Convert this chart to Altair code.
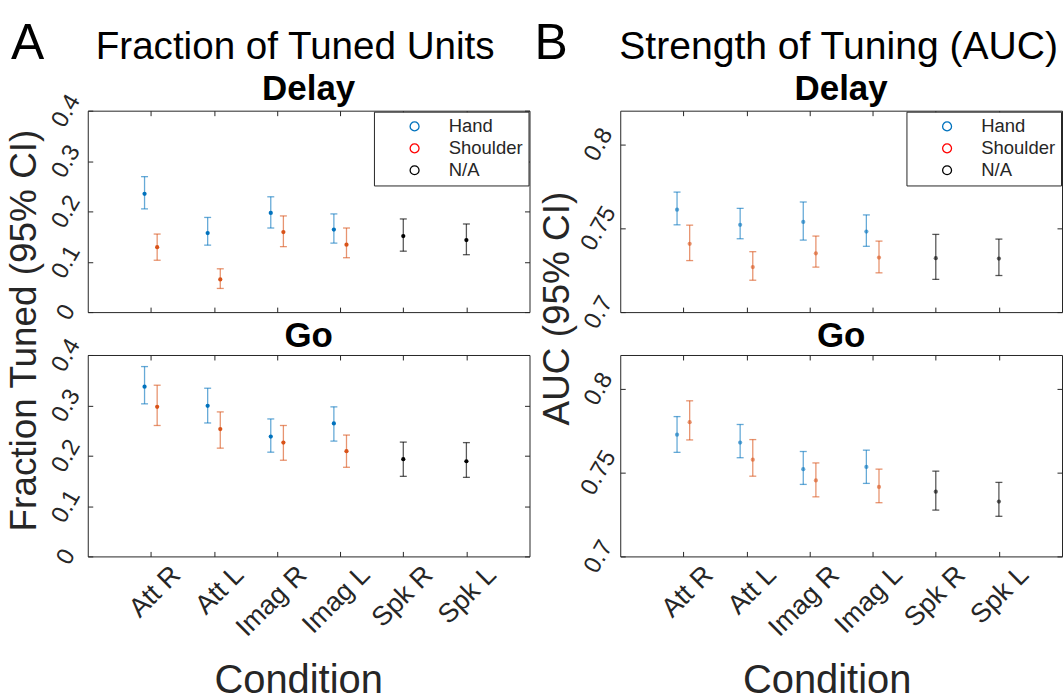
import json
import altair as alt
import pandas as pd

FONT = "Liberation Sans"
GRAY = "#262626"

conditions = ["Att R", "Att L", "Imag R", "Imag L", "Spk R", "Spk L"]
group_names = ["Hand", "Shoulder", "N/A"]
hand_conds = ["Att R", "Att L", "Imag R", "Imag L"]
shoulder_conds = ["Att R", "Att L", "Imag R", "Imag L"]
na_conds = ["Spk R", "Spk L"]

# ---- Fraction tuned, Delay ----
frac_delay_hand = [0.235, 0.157, 0.197, 0.164]
frac_delay_hand_lo = [0.205, 0.133, 0.167, 0.137]
frac_delay_hand_hi = [0.269, 0.188, 0.229, 0.195]
frac_delay_sh = [0.129, 0.065, 0.159, 0.134]
frac_delay_sh_lo = [0.103, 0.047, 0.130, 0.108]
frac_delay_sh_hi = [0.155, 0.086, 0.191, 0.167]
frac_delay_na = [0.151, 0.143]
frac_delay_na_lo = [0.121, 0.114]
frac_delay_na_hi = [0.185, 0.175]

# ---- Fraction tuned, Go ----
frac_go_hand = [0.337, 0.299, 0.238, 0.264]
frac_go_hand_lo = [0.303, 0.265, 0.207, 0.229]
frac_go_hand_hi = [0.377, 0.334, 0.273, 0.297]
frac_go_sh = [0.297, 0.253, 0.226, 0.209]
frac_go_sh_lo = [0.260, 0.215, 0.191, 0.177]
frac_go_sh_hi = [0.340, 0.287, 0.260, 0.241]
frac_go_na = [0.193, 0.189]
frac_go_na_lo = [0.159, 0.157]
frac_go_na_hi = [0.227, 0.226]

# ---- AUC, Delay ----
auc_delay_hand = [0.7610, 0.7520, 0.7537, 0.7480]
auc_delay_hand_lo = [0.7520, 0.7437, 0.7429, 0.7392]
auc_delay_hand_hi = [0.7715, 0.7618, 0.7656, 0.7579]
auc_delay_sh = [0.7407, 0.7268, 0.7350, 0.7325]
auc_delay_sh_lo = [0.7307, 0.7190, 0.7268, 0.7234]
auc_delay_sh_hi = [0.7518, 0.7360, 0.7453, 0.7423]
auc_delay_na = [0.7321, 0.7319]
auc_delay_na_lo = [0.7195, 0.7218]
auc_delay_na_hi = [0.7463, 0.7435]

# ---- AUC, Go ----
auc_go_hand = [0.7725, 0.7678, 0.7520, 0.7533]
auc_go_hand_lo = [0.7620, 0.7588, 0.7429, 0.7435]
auc_go_hand_hi = [0.7833, 0.7786, 0.7625, 0.7633]
auc_go_sh = [0.7800, 0.7576, 0.7453, 0.7414]
auc_go_sh_lo = [0.7694, 0.7478, 0.7355, 0.7320]
auc_go_sh_hi = [0.7927, 0.7696, 0.7557, 0.7520]
auc_go_na = [0.7386, 0.7327]
auc_go_na_lo = [0.7276, 0.7239]
auc_go_na_hi = [0.7508, 0.7441]

frac_ticks = [0, 0.1, 0.2, 0.3, 0.4]
auc_ticks = [0.7, 0.75, 0.8]

mark_colors = ["#0072BD", "#D95319", "#000000"]
legend_colors = ["#0072BD", "#FF0000", "#000000"]
bar_opacity = [0.6, 0.65, 0.85]
group_offset = {"Hand": -0.1, "Shoulder": 0.1, "N/A": 0.0}

label_expr = json.dumps([""] + conditions) + "[datum.value]"


def make_df(hand, hand_lo, hand_hi, sh, sh_lo, sh_hi, na, na_lo, na_hi):
    rows = []
    for grp, conds, m, lo, hi in [
        ("Hand", hand_conds, hand, hand_lo, hand_hi),
        ("Shoulder", shoulder_conds, sh, sh_lo, sh_hi),
        ("N/A", na_conds, na, na_lo, na_hi),
    ]:
        for c, a, b, d in zip(conds, m, lo, hi):
            rows.append({
                "condition": c,
                "group": grp,
                "pos": conditions.index(c) + 1 + group_offset[grp],
                "mean": a, "lo": b, "hi": d,
            })
    return pd.DataFrame(rows)


def text_layer(text, x, y, size, weight="normal", align="left"):
    return alt.Chart(pd.DataFrame({"t": [text]})).mark_text(
        font=FONT, fontSize=size, fontWeight=weight, align=align,
        baseline="alphabetic", color="black"
    ).encode(text="t:N", x=alt.value(x), y=alt.value(y))


def panel(df, ydom, yvals, yfmt, width, height, show_x, ytitle, ytitle_y,
          xtitle_x, point_opacity, with_legend, texts):
    xs = alt.Scale(domain=[0, 7], nice=False, zero=False)
    ys = alt.Scale(domain=ydom, nice=False, zero=False)
    color = alt.Color("group:N", scale=alt.Scale(domain=group_names, range=mark_colors), legend=None)
    opac = alt.Opacity("group:N", scale=alt.Scale(domain=group_names, range=bar_opacity), legend=None)

    x_axis = alt.Axis(
        orient="bottom", values=list(range(1, 7)), labels=show_x, labelExpr=label_expr,
        labelAngle=-45, labelAlign="right", labelBaseline="middle", labelPadding=14,
        labelOffset=25, labelFont=FONT, labelFontSize=27, labelColor=GRAY,
        labelOverlap=False, labelFlush=False, ticks=True, tickSize=5, tickColor=GRAY,
        tickWidth=1, offset=-5, domain=False, grid=False,
        title=("Condition" if show_x else None), titleFont=FONT, titleFontSize=40,
        titleFontWeight="normal", titleColor=GRAY, titleX=xtitle_x, titleY=141,
        titleAlign="center", titleBaseline="alphabetic",
    )
    y_axis = alt.Axis(
        orient="left", values=yvals, format=yfmt, labelAngle=-60, labelAlign="center",
        labelBaseline="middle", labelPadding=22, labelFont=FONT, labelFontSize=24,
        labelColor=GRAY, labelOverlap=False, labelFlush=False, tickSize=5,
        tickColor=GRAY, tickWidth=1, offset=-5, domain=False, grid=False,
        title=ytitle, titleFont=FONT, titleFontSize=37, titleFontWeight="normal",
        titleColor=GRAY, titleAngle=270, titleX=-57, titleY=ytitle_y,
        titleAlign="center", titleBaseline="alphabetic",
    )
    top_axis = alt.Axis(orient="top", values=list(range(1, 7)), labels=False, tickSize=5,
                        tickColor=GRAY, tickWidth=1, offset=-5, domain=False, grid=False,
                        title=None)
    right_axis = alt.Axis(orient="right", values=yvals, labels=False, tickSize=5,
                          tickColor=GRAY, tickWidth=1, offset=-5, domain=False, grid=False,
                          title=None)

    base = alt.Chart(df)
    bars = base.mark_rule(strokeWidth=1.3).encode(
        x=alt.X("pos:Q", scale=xs, axis=x_axis),
        y=alt.Y("lo:Q", scale=ys, axis=y_axis),
        y2="hi:Q", color=color, opacity=opac,
    )
    caps_lo = base.mark_tick(orient="horizontal", size=7, thickness=1.3).encode(
        x=alt.X("pos:Q", axis=None), y=alt.Y("lo:Q", axis=None), color=color, opacity=opac)
    caps_hi = base.mark_tick(orient="horizontal", size=7, thickness=1.3).encode(
        x=alt.X("pos:Q", axis=None), y=alt.Y("hi:Q", axis=None), color=color, opacity=opac)
    pts = base.mark_circle(size=18).encode(
        x=alt.X("pos:Q", axis=None), y=alt.Y("mean:Q", axis=None), color=color,
        opacity=alt.value(point_opacity))
    frame_ticks = base.mark_point(opacity=0).encode(
        x=alt.X("pos:Q", axis=top_axis), y=alt.Y("mean:Q", axis=right_axis))

    layers = [bars, caps_lo, caps_hi, pts, frame_ticks]
    if with_legend:
        leg = base.mark_point(opacity=0, filled=False, shape="circle").encode(
            x=alt.X("pos:Q", axis=None), y=alt.Y("mean:Q", axis=None),
            stroke=alt.Stroke("group:N", scale=alt.Scale(domain=group_names, range=legend_colors),
                              legend=alt.Legend(
                                  title=None, orient="top-right", offset=1, padding=5.5,
                                  strokeColor=GRAY, fillColor="white", cornerRadius=0,
                                  symbolType="circle", symbolSize=80, symbolStrokeWidth=1.3,
                                  symbolOpacity=1, symbolFillColor="white", symbolOffset=26,
                                  labelOffset=25, labelFont=FONT, labelFontSize=18.5,
                                  labelColor=GRAY, rowPadding=3)))
        layers.append(leg)
    layers.extend(texts)
    return alt.layer(*layers).resolve_axis(x="independent", y="independent").properties(
        width=width, height=height)


W = 443
H = 202
df_fd = make_df(frac_delay_hand, frac_delay_hand_lo, frac_delay_hand_hi,
                frac_delay_sh, frac_delay_sh_lo, frac_delay_sh_hi,
                frac_delay_na, frac_delay_na_lo, frac_delay_na_hi)
df_fg = make_df(frac_go_hand, frac_go_hand_lo, frac_go_hand_hi,
                frac_go_sh, frac_go_sh_lo, frac_go_sh_hi,
                frac_go_na, frac_go_na_lo, frac_go_na_hi)
df_ad = make_df(auc_delay_hand, auc_delay_hand_lo, auc_delay_hand_hi,
                auc_delay_sh, auc_delay_sh_lo, auc_delay_sh_hi,
                auc_delay_na, auc_delay_na_lo, auc_delay_na_hi)
df_ag = make_df(auc_go_hand, auc_go_hand_lo, auc_go_hand_hi,
                auc_go_sh, auc_go_sh_lo, auc_go_sh_hi,
                auc_go_na, auc_go_na_lo, auc_go_na_hi)

a_delay = panel(df_fd, [0, 0.4], frac_ticks, ".1~f", W, H, False,
                "Fraction Tuned (95% CI)", 220, 211, 1, True,
                [text_layer("A", -77, -52, 50),
                 text_layer("Fraction of Tuned Units", 8, -52, 38.7),
                 text_layer("Delay", W / 2, -11, 35, "bold", "center")])
a_go = panel(df_fg, [0, 0.4], frac_ticks, ".1~f", W, H, True,
             None, 100, 211, 1, False,
             [text_layer("Go", W / 2, -8, 35, "bold", "center")])
b_delay = panel(df_ad, [0.7, 0.82], auc_ticks, ".2~f", W, H, False,
                "AUC (95% CI)", 198, 207, 0.6, True,
                [text_layer("B", -86, -52, 50),
                 text_layer("Strength of Tuning (AUC)", -1, -52, 39.2),
                 text_layer("Delay", W / 2, -11, 35, "bold", "center")])
b_go = panel(df_ag, [0.7, 0.82], auc_ticks, ".2~f", W, H, True,
             None, 100, 207, 0.6, False,
             [text_layer("Go", W / 2, -8, 35, "bold", "center")])

chart = alt.concat(
    a_delay, b_delay, a_go, b_go, columns=2,
    spacing={"row": 43, "column": 91}, bounds="flush",
).resolve_scale(
    stroke="independent"
).properties(
    padding={"left": 5, "top": 17, "right": 0, "bottom": 0},
    background="white",
).configure_view(stroke=GRAY, strokeWidth=1)

chart.save("out.html", embed_options={"renderer": "svg", "actions": False})
